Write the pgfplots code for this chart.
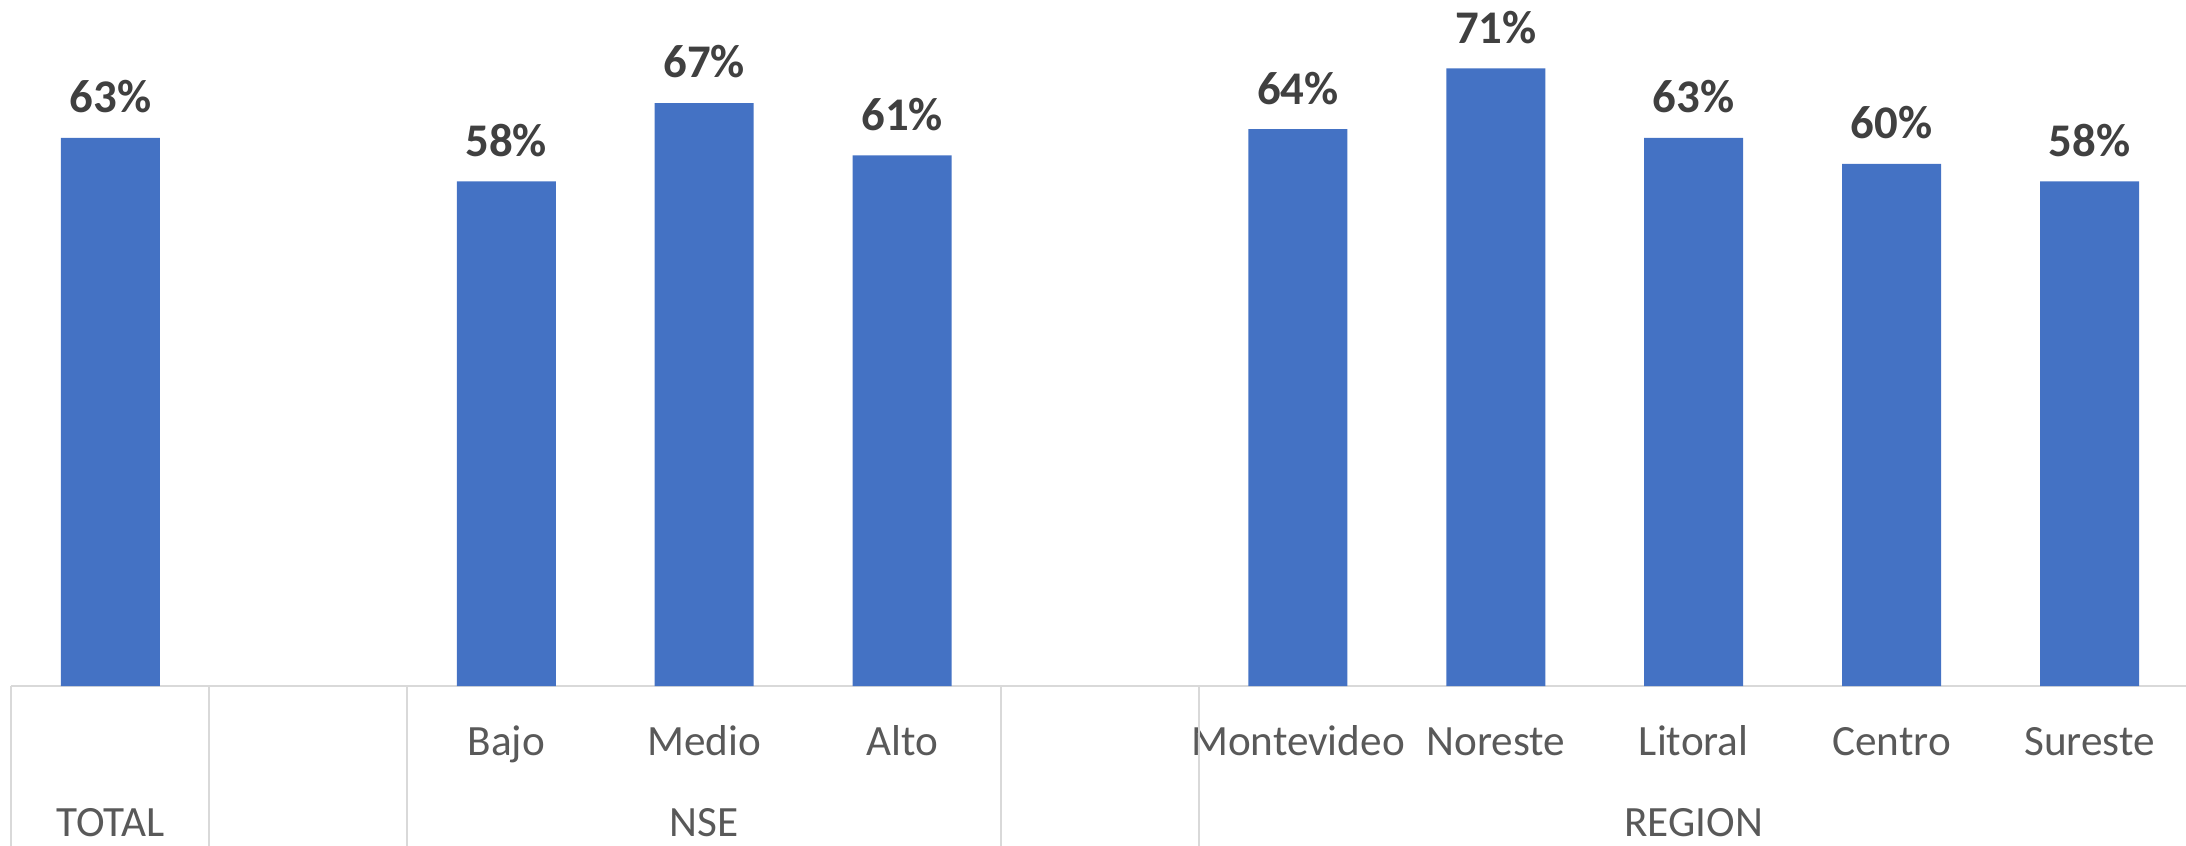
\documentclass[border=0pt]{standalone}
\usepackage{fontspec}
\setmainfont{Carlito}
\usepackage{pgfplots}
\pgfplotsset{compat=1.18}
\definecolor{barblue}{HTML}{4472C4}
\definecolor{labelgray}{HTML}{404040}
\definecolor{axisgray}{HTML}{595959}
\definecolor{linegray}{HTML}{D9D9D9}

\begin{document}
\begin{tikzpicture}
\begin{axis}[
    name=ax,
    scale only axis,
    width=544.25pt, height=171.5pt,
    xmin=-0.5, xmax=10.5,
    ymin=0, ymax=78.85,
    axis x line*=bottom,
    axis y line=none,
    x axis line style={-, draw=linegray, line width=0.5pt},
    ytick=\empty,
    xtick={0,...,10},
    xticklabels={,,Bajo,Medio,Alto,,Montevideo,Noreste,Litoral,Centro,Sureste},
    major tick length=0pt,
    xticklabel style={font=\fontsize{10.8}{12}\selectfont, text=axisgray, anchor=base, yshift=-17.25pt},
    clip=false,
    /pgf/number format/assume math mode=true,
    ybar, bar width=24.75pt,
    nodes near coords={\pgfmathprintnumber{\pgfplotspointmeta}\%},
    every node near coord/.append style={font=\bfseries\fontsize{11.7}{14}\selectfont, text=labelgray, inner sep=0pt, yshift=6pt},
]
\addplot[fill=barblue, draw=none] coordinates {
    (0,63) (2,58) (3,67) (4,61) (6,64) (7,71) (8,63) (9,60) (10,58)
};

% group separators under the axis
\pgfplotsinvokeforeach{-0.5,0.5,1.5,4.5,5.5,10.5}{
    \draw[linegray, line width=0.5pt] (axis cs:#1,0) -- ([yshift=-42pt]axis cs:#1,0);
}
% second level labels
\node[anchor=base, yshift=-37.7pt, font=\fontsize{10.8}{12}\selectfont, text=axisgray] at (axis cs:0,0) {TOTAL};
\node[anchor=base, yshift=-37.7pt, font=\fontsize{10.8}{12}\selectfont, text=axisgray] at (axis cs:3,0) {NSE};
\node[anchor=base, yshift=-37.7pt, font=\fontsize{10.8}{12}\selectfont, text=axisgray] at (axis cs:8,0) {REGION};
\end{axis}
\pgfresetboundingbox
\path[use as bounding box] ([xshift=-2.875pt, yshift=-40pt]ax.south west) rectangle ([xshift=543.625pt, yshift=171.5pt]ax.south west);
\end{tikzpicture}
\end{document}
